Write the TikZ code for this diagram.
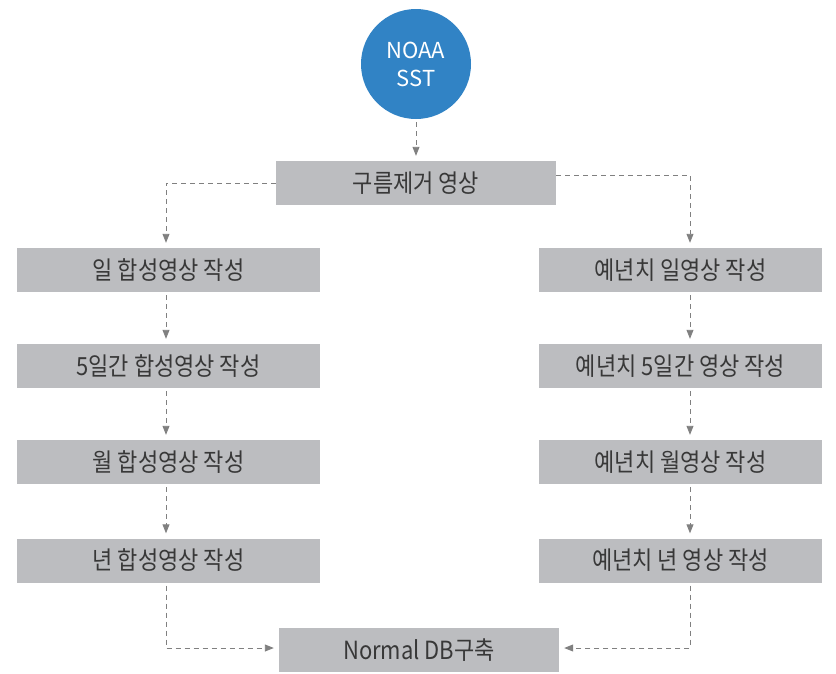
\documentclass[tikz,border=0pt]{standalone}
\usepackage{fontspec}
\setmainfont{Noto Sans CJK KR}
\newfontfamily\boxfont{Noto Sans CJK KR}[FakeStretch=0.88]
\usetikzlibrary{arrows.meta}
\definecolor{boxgray}{HTML}{BCBDC0}
\definecolor{circblue}{HTML}{3183C5}
\definecolor{linegray}{HTML}{808080}
\definecolor{txt}{HTML}{383838}
\begin{document}
\begin{tikzpicture}[x=1pt,y=1pt,
  procbox/.style={fill=boxgray, draw=none, minimum height=44pt, inner sep=0pt, text=txt, font=\boxfont\fontsize{25}{28}\selectfont},
  lbox/.style={procbox, minimum width=303pt},
  rbox/.style={procbox, minimum width=283pt},
  cbox/.style={procbox, minimum width=280pt},
  conn/.style={draw=linegray, line width=0.9pt, dash pattern=on 5pt off 4pt, -{Triangle[length=9pt,width=7pt]}, shorten >=5pt, shorten <=3pt}
]
\useasboundingbox (0,0) rectangle (836,-673);
\node[circle, fill=circblue, minimum size=110pt, inner sep=0pt, text=white, align=center, font=\fontsize{22}{28}\selectfont] (N) at (416,-64) {NOAA\\SST};
\node[cbox] (C) at (416,-183) {구름제거 영상};
\node[lbox] (L1) at (168.5,-270) {일 합성영상 작성};
\node[lbox] (L2) at (168.5,-366) {5일간 합성영상 작성};
\node[lbox] (L3) at (168.5,-462) {월 합성영상 작성};
\node[lbox] (L4) at (168.5,-560.5) {년 합성영상 작성};
\node[rbox] (R1) at (680.5,-270) {예년치 일영상 작성};
\node[rbox] (R2) at (680.5,-366) {예년치 5일간 영상 작성};
\node[rbox] (R3) at (680.5,-462) {예년치 월영상 작성};
\node[rbox] (R4) at (680.5,-560.5) {예년치 년 영상 작성};
\node[cbox] (DB) at (419,-650) {Normal DB구축};
\coordinate (xl) at (166,0);
\coordinate (xr) at (690,0);
\draw[conn] (N.south) -- (C.north);
\draw[conn, shorten <=0pt] (C.west) -- (C.west -| xl) -- (L1.north -| xl);
\draw[conn, shorten <=0pt] ([yshift=8pt]C.east) -- ([yshift=8pt]C.east -| xr) -- (R1.north -| xr);
\draw[conn] (L1.south -| xl) -- (L2.north -| xl);
\draw[conn] (L2.south -| xl) -- (L3.north -| xl);
\draw[conn] (L3.south -| xl) -- (L4.north -| xl);
\draw[conn] (R1.south -| xr) -- (R2.north -| xr);
\draw[conn] (R2.south -| xr) -- (R3.north -| xr);
\draw[conn] (R3.south -| xr) -- (R4.north -| xr);
\draw[conn] (L4.south -| xl) |- ([yshift=2pt]DB.west);
\draw[conn] (R4.south -| xr) |- ([yshift=2pt]DB.east);
\end{tikzpicture}
\end{document}
